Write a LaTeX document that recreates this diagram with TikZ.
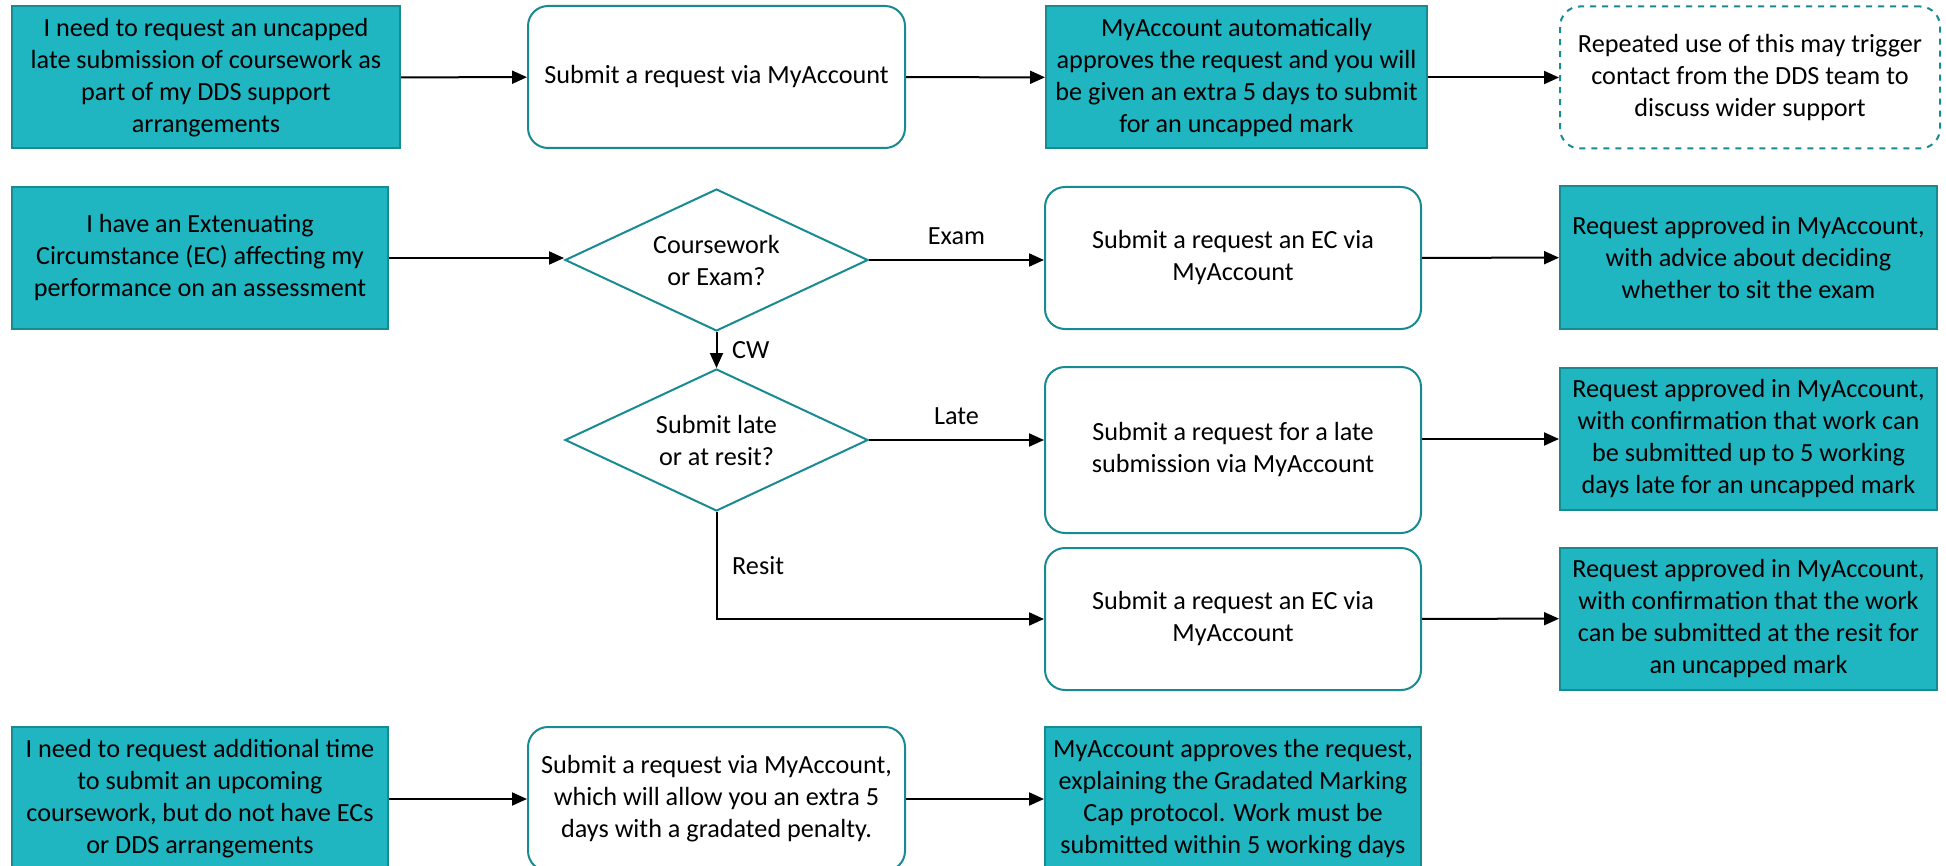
\documentclass[tikz,border=0pt]{standalone}
\usepackage{fontspec}
\setmainfont{Carlito}
\usepackage{tikz}
\usetikzlibrary{arrows.meta,calc,positioning,shapes.geometric}

\definecolor{tealfill}{RGB}{31,181,193}
\definecolor{tealline}{RGB}{24,138,146}

\begin{document}
\begin{tikzpicture}[x=0.5pt, y=-0.5pt,
  every node/.style={font=\fontsize{13.1}{16}\selectfont, align=center},
  infobox/.style={draw=tealline, fill=tealfill, line width=1pt,
    minimum width=188pt, minimum height=71pt, inner sep=2pt},
  actbox/.style={draw=tealline, fill=white, line width=1pt, rounded corners=10pt,
    minimum width=188pt, minimum height=71pt, inner sep=2pt},
  notebox/.style={actbox, dashed},
  choice/.style={diamond, draw=tealline, line width=1pt, aspect=2.13,
    minimum width=151.5pt, minimum height=71pt, inner sep=0pt},
  flow/.style={draw=black, line width=1pt, -{Triangle[length=7.5pt,width=6.5pt]}},
  tag/.style={font=\fontsize{13.1}{16}\selectfont}]
\useasboundingbox (0,0) rectangle (1946,866);
\clip (0,0) rectangle (1946,866);

% row 1: DDS arrangements
\node[infobox, minimum width=194pt] (a1) at (206,77.5) {I need to request an uncapped\\late submission of coursework as\\part of my DDS support\\arrangements};
\node[actbox, minimum width=188.5pt] (a2) at (716.5,77) {Submit a request via MyAccount};
\node[infobox, minimum width=190.5pt] (a3) at (1236.5,77.5) {MyAccount automatically\\approves the request and you will\\be given an extra 5 days to submit\\for an uncapped mark};
\node[notebox, minimum width=190pt] (a4) at (1750,77.5) {Repeated use of this may trigger\\contact from the DDS team to\\discuss wider support};

% rows 2-4: extenuating circumstances
\node[infobox] (b1) at (200,258) {I have an Extenuating\\Circumstance (EC) affecting my\\performance on an assessment};
\node[choice] (d1) at (716.5,260) {Coursework\\or Exam?};
\node[actbox] (b3) at (1233,258) {Submit a request an EC via\\MyAccount};
\node[infobox, minimum width=188.5pt] (b4) at (1748.5,257.5) {Request approved in MyAccount,\\with advice about deciding\\whether to sit the exam};

\node[choice] (d2) at (716.5,440) {Submit late\\or at resit?};
\node[actbox, minimum height=83pt] (c3) at (1233,450) {Submit a request for a late\\submission via MyAccount};
\node[infobox, minimum width=188.5pt] (c4) at (1748.5,439) {Request approved in MyAccount,\\with confirmation that work can\\be submitted up to 5 working\\days late for an uncapped mark};

\node[actbox] (d3) at (1233,619) {Submit a request an EC via\\MyAccount};
\node[infobox, minimum width=188.5pt] (d4) at (1748.5,618.5) {Request approved in MyAccount,\\with confirmation that the work\\can be submitted at the resit for\\an uncapped mark};

% row 5: no ECs or DDS
\node[infobox, minimum height=72pt] (e1) at (200,799) {I need to request additional time\\to submit an upcoming\\coursework, but do not have ECs\\or DDS arrangements};
\node[actbox, minimum width=188.5pt, minimum height=72pt] (e2) at (716.5,799) {Submit a request via MyAccount,\\which will allow you an extra 5\\days with a gradated penalty.};
\node[infobox, minimum height=72pt] (e3) at (1233,799) {MyAccount approves the request,\\explaining the Gradated Marking\\Cap protocol. Work must be\\submitted within 5 working days};

\draw[flow] (a1) -- (a2);
\draw[flow] (a2) -- (a3);
\draw[flow] (a3) -- (a4);

\draw[flow] (b1.east) -- (b1.east -| d1.west);
\draw[flow] (d1.east) -- node[tag, above=4pt] {Exam} (d1.east -| b3.west);
\draw[flow] (b3) -- (b4);
\draw[flow] (d1.south) -- node[tag, right=4pt] {CW} (d2.north);
\draw[flow] (d2.east) -- node[tag, above=4pt] {Late} (d2.east -| c3.west);
\draw[flow] (c4.west -| c3.east) -- (c4.west);
\draw[flow] (d2.south) -- node[tag, right=4pt] {Resit} (d2.south |- d3.west) -- (d3.west);
\draw[flow] (d3) -- (d4);

\draw[flow] (e1) -- (e2);
\draw[flow] (e2) -- (e3);
\end{tikzpicture}
\end{document}
